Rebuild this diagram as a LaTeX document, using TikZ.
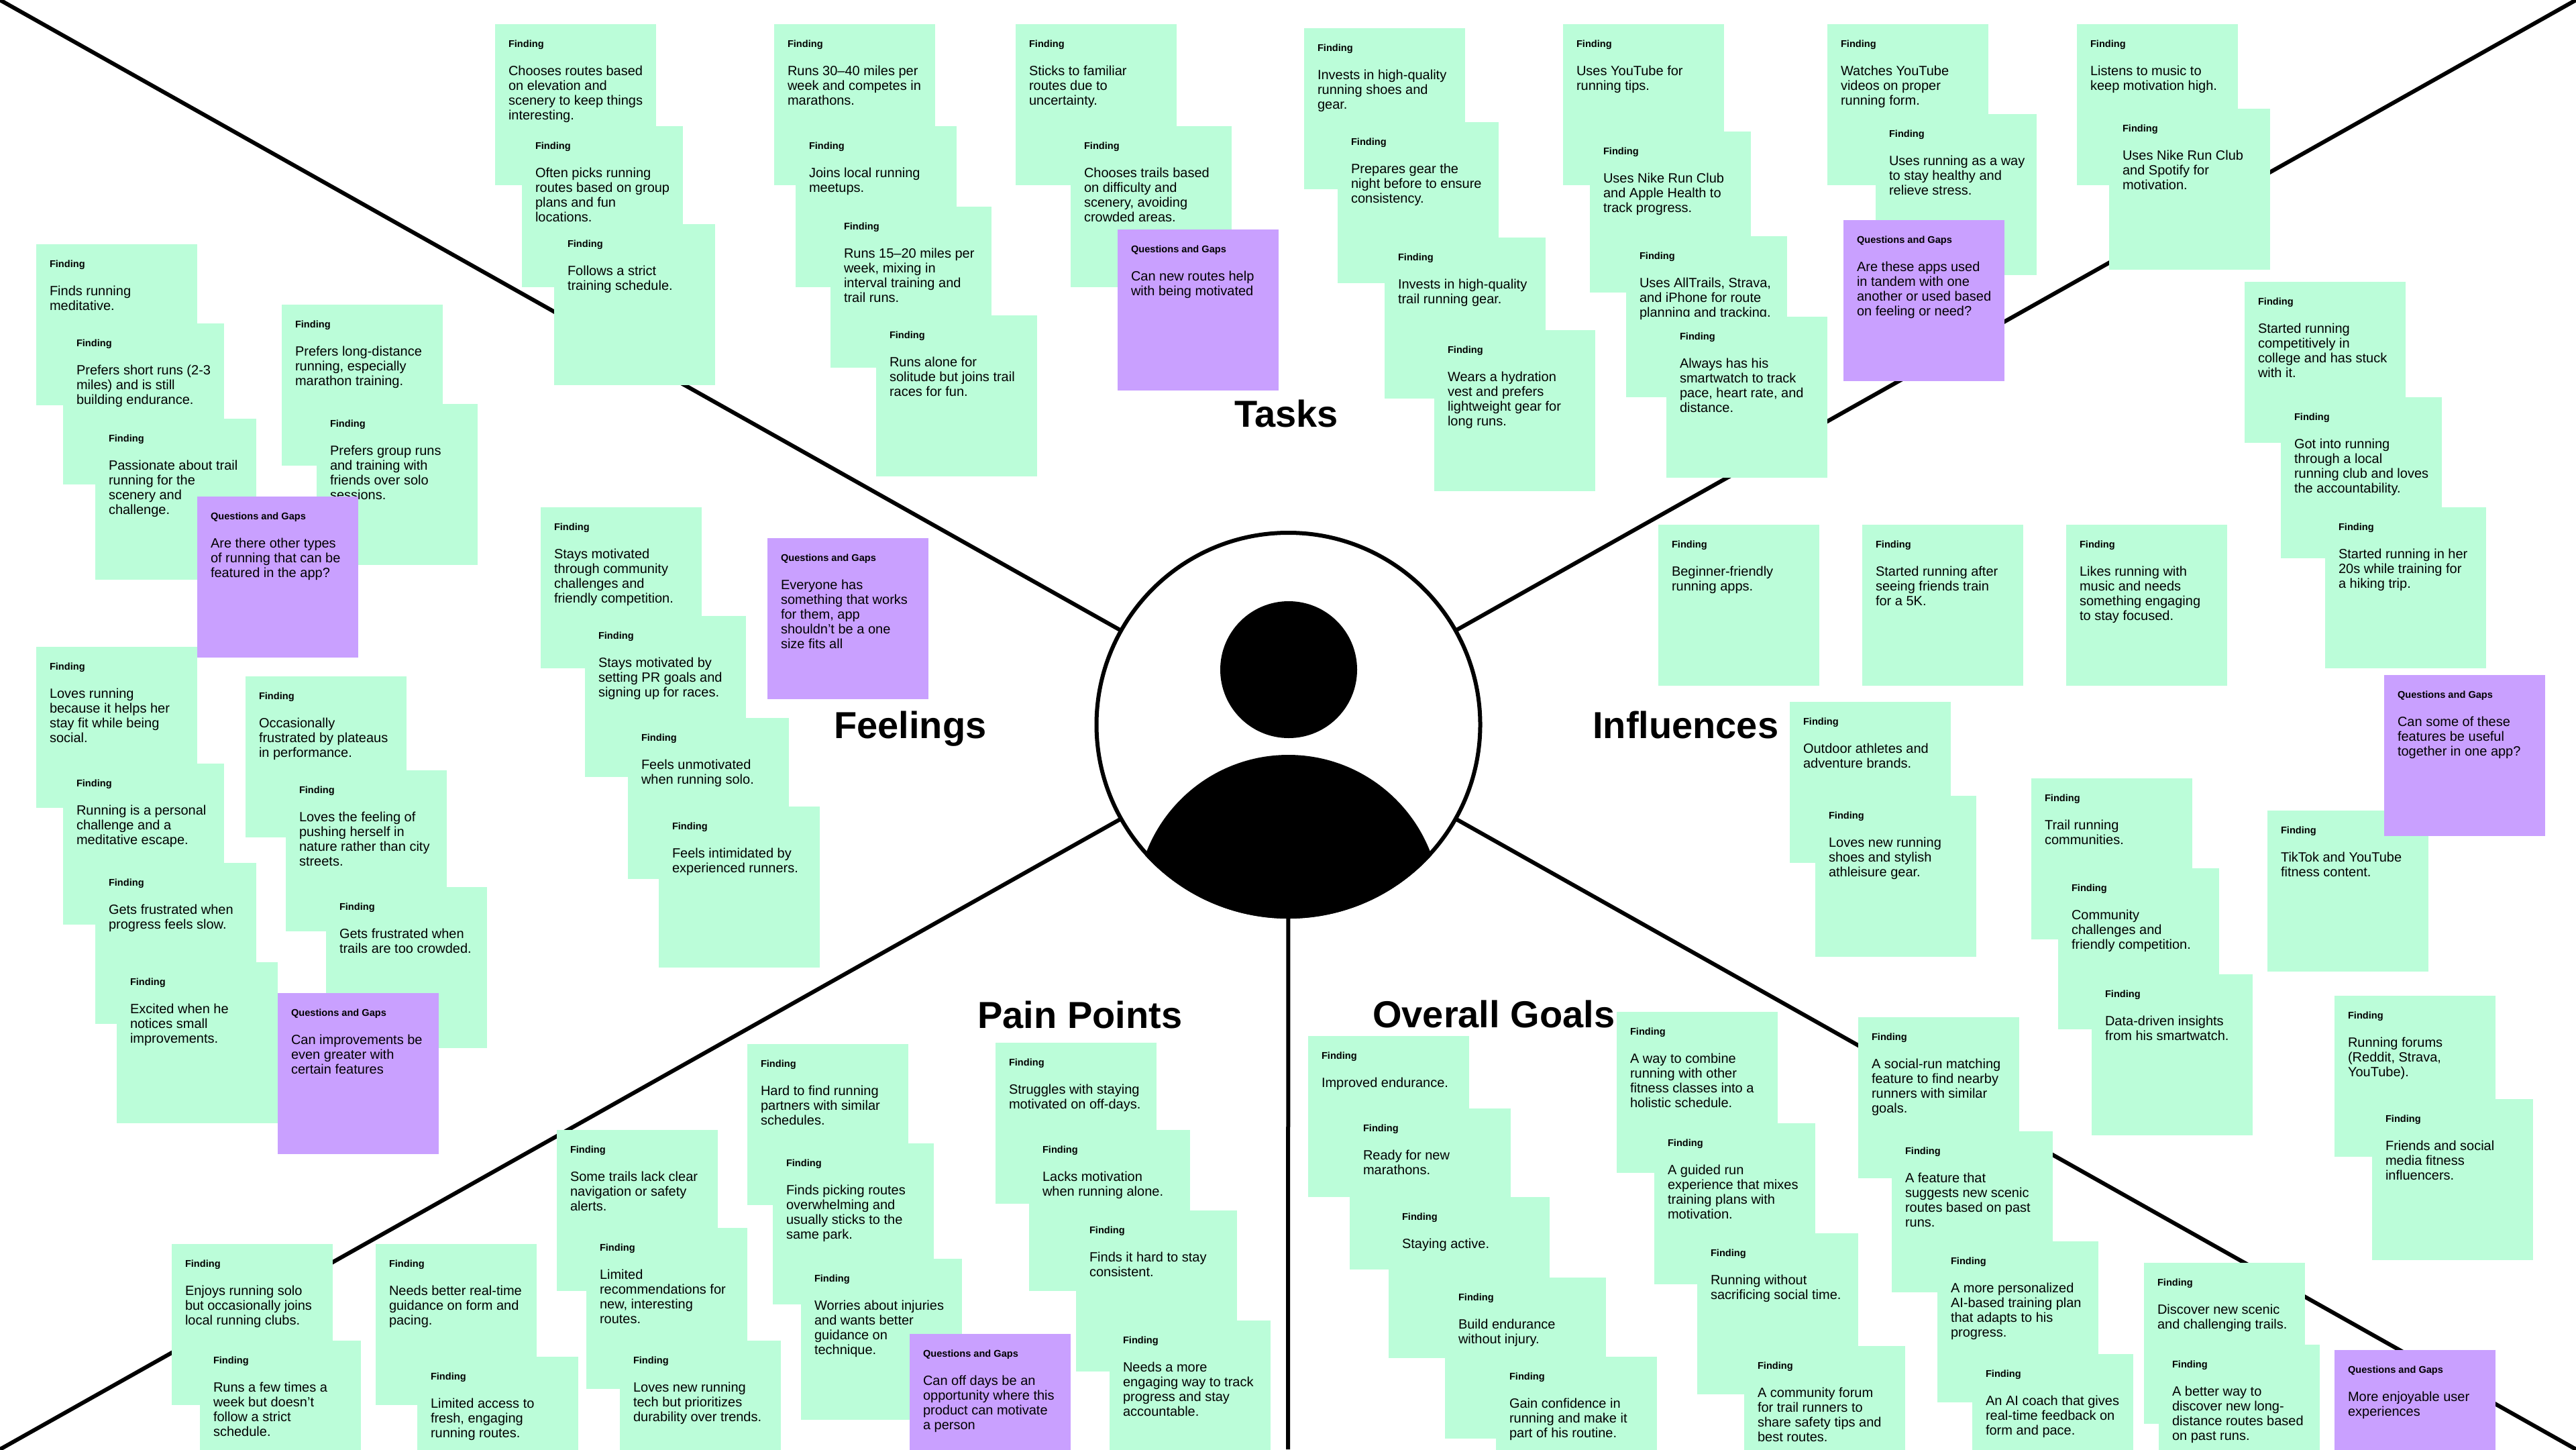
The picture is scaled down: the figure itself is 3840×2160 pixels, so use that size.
\documentclass[tikz,border=0pt]{standalone}
\usepackage{fontspec}
\setmainfont{Liberation Sans}
\definecolor{mint}{HTML}{BBFDD9}
\definecolor{violetnote}{HTML}{C9A0FF}
\newcommand\notebody[2]{\hspace*{20pt}\parbox[t][240pt][t]{220pt}{\raggedright\fontsize{14.6}{14.6}\selectfont\bfseries\rule{0pt}{34.4pt}#1\par\vspace{20pt}\fontsize{20}{22.1}\selectfont\mdseries #2\par}}
\newcommand\mintcard[4]{\node[findcard] (#1) at (#2,#3) {\notebody{Finding}{#4}};}
\newcommand\violetcard[4]{\node[gapcard] (#1) at (#2,#3) {\notebody{Questions and Gaps}{#4}};}
\tikzset{
 notecard/.style={anchor=north west,inner sep=0pt,outer sep=0pt,text=black},
 findcard/.style={notecard,fill=mint},
 gapcard/.style={notecard,fill=violetnote},
 spoke/.style={draw=black,line width=6pt},
 title/.style={anchor=base west,inner sep=0pt,font=\fontsize{56}{60}\selectfont\bfseries},
 avatarring/.style={circle,draw=black,line width=6pt,fill=white,minimum size=572pt,inner sep=0pt,outer sep=0pt},
 avatarhead/.style={circle,fill=black,minimum size=204pt,inner sep=0pt,outer sep=0pt},
}
\begin{document}
\begin{tikzpicture}[x=1pt,y=-1pt]
\useasboundingbox (0,0) rectangle (3840,2160);
\fill[white] (0,0) rectangle (3840,2160);
\coordinate (cornerTL) at (0,0);
\coordinate (cornerTR) at (3840,0);
\coordinate (cornerBL) at (0,2160);
\coordinate (cornerBR) at (3840,2160);
\coordinate (bottomMid) at (1920,2160);
\node[avatarring] (avatar) at (1920.5,1080) {};
\draw[spoke] (avatar) -- (cornerTL);
\draw[spoke] (avatar) -- (cornerTR);
\draw[spoke] (avatar) -- (cornerBL);
\draw[spoke] (avatar) -- (cornerBR);
\draw[spoke] (avatar) -- (bottomMid);
\node[avatarhead] (head) at (1921,998) {};
\begin{scope}
\clip (1920.5,1080) circle (289);
\fill[black] (1920.5,1352) circle (227);
\end{scope}
% titles
\node[title] (tTasks) at (1840,636) {Tasks};
\node[title] (tFeelings) at (1243,1100) {Feelings};
\node[title] (tInfluences) at (2374,1100) {Influences};
\node[title] (tPain) at (1457,1532) {Pain Points};
\node[title] (tGoals) at (2046,1531) {Overall Goals};
% Feelings, far left
\mintcard{a1}{54}{364}{Finds running\\meditative.}
\mintcard{a2}{94}{482}{Prefers short runs (2-3\\miles) and is still\\building endurance.}
\mintcard{a3}{142}{624}{Passionate about trail\\running for the\\scenery and\\challenge.}
\mintcard{a4}{420}{454}{Prefers long-distance\\running, especially\\marathon training.}
\mintcard{a5}{472}{602}{Prefers group runs\\and training with\\friends over solo\\sessions.}
\violetcard{a6}{294}{740}{Are there other types\\of running that can be\\featured in the app?}
\mintcard{a7}{54}{964}{Loves running\\because it helps her\\stay fit while being\\social.}
\mintcard{a8}{94}{1138}{Running is a personal\\challenge and a\\meditative escape.}
\mintcard{a9}{142}{1286}{Gets frustrated when\\progress feels slow.}
\mintcard{a10}{174}{1434}{Excited when he\\notices small\\improvements.}
\mintcard{a11}{366}{1008}{Occasionally\\frustrated by plateaus\\in performance.}
\mintcard{a12}{426}{1148}{Loves the feeling of\\pushing herself in\\nature rather than city\\streets.}
\mintcard{a13}{486}{1322}{Gets frustrated when\\trails are too crowded.}
\violetcard{a14}{414}{1480}{Can improvements be\\even greater with\\certain features}
% Feelings, centre
\mintcard{b1}{806}{756}{Stays motivated\\through community\\challenges and\\friendly competition.}
\mintcard{b2}{872}{918}{Stays motivated by\\setting PR goals and\\signing up for races.}
\mintcard{b3}{936}{1070}{Feels unmotivated\\when running solo.}
\mintcard{b4}{982}{1202}{Feels intimidated by\\experienced runners.}
\violetcard{b5}{1144}{802}{Everyone has\\something that works\\for them, app\\shouldn’t be a one\\size fits all}
% Tasks
\mintcard{c1}{738}{36}{Chooses routes based\\on elevation and\\scenery to keep things\\interesting.}
\mintcard{c2}{778}{188}{Often picks running\\routes based on group\\plans and fun\\locations.}
\mintcard{c3}{826}{334}{Follows a strict\\training schedule.}
\mintcard{c4}{1154}{36}{Runs 30–40 miles per\\week and competes in\\marathons.}
\mintcard{c5}{1186}{188}{Joins local running\\meetups.}
\mintcard{c6}{1238}{308}{Runs 15–20 miles per\\week, mixing in\\interval training and\\trail runs.}
\mintcard{c7}{1306}{470}{Runs alone for\\solitude but joins trail\\races for fun.}
\mintcard{c8}{1514}{36}{Sticks to familiar\\routes due to\\uncertainty.}
\mintcard{c9}{1596}{188}{Chooses trails based\\on difficulty and\\scenery, avoiding\\crowded areas.}
\violetcard{c10}{1666}{342}{Can new routes help\\with being motivated}
\mintcard{c11}{1944}{42}{Invests in high-quality\\running shoes and\\gear.}
\mintcard{c12}{1994}{182}{Prepares gear the\\night before to ensure\\consistency.}
\mintcard{c13}{2064}{354}{Invests in high-quality\\trail running gear.}
\mintcard{c14}{2138}{492}{Wears a hydration\\vest and prefers\\lightweight gear for\\long runs.}
\mintcard{c15}{2330}{36}{Uses YouTube for\\running tips.}
\mintcard{c16}{2370}{196}{Uses Nike Run Club\\and Apple Health to\\track progress.}
\mintcard{c17}{2424}{352}{Uses AllTrails, Strava,\\and iPhone for route\\planning and tracking.}
\mintcard{c18}{2484}{472}{Always has his\\smartwatch to track\\pace, heart rate, and\\distance.}
\mintcard{c19}{2724}{36}{Watches YouTube\\videos on proper\\running form.}
\mintcard{c20}{2796}{170}{Uses running as a way\\to stay healthy and\\relieve stress.}
\violetcard{c21}{2748}{328}{Are these apps used\\in tandem with one\\another or used based\\on feeling or need?}
\mintcard{c22}{3096}{36}{Listens to music to\\keep motivation high.}
\mintcard{c23}{3144}{162}{Uses Nike Run Club\\and Spotify for\\motivation.}
% Influences
\mintcard{d1}{3346}{420}{Started running\\competitively in\\college and has stuck\\with it.}
\mintcard{d2}{3400}{592}{Got into running\\through a local\\running club and loves\\the accountability.}
\mintcard{d3}{3466}{756}{Started running in her\\20s while training for\\a hiking trip.}
\mintcard{d4}{2472}{782}{Beginner-friendly\\running apps.}
\mintcard{d5}{2776}{782}{Started running after\\seeing friends train\\for a 5K.}
\mintcard{d6}{3080}{782}{Likes running with\\music and needs\\something engaging\\to stay focused.}
\mintcard{d7}{2668}{1046}{Outdoor athletes and\\adventure brands.}
\mintcard{d8}{2706}{1186}{Loves new running\\shoes and stylish\\athleisure gear.}
\mintcard{d9}{3028}{1160}{Trail running\\communities.}
\mintcard{d10}{3068}{1294}{Community\\challenges and\\friendly competition.}
\mintcard{d11}{3118}{1452}{Data-driven insights\\from his smartwatch.}
\mintcard{d12}{3380}{1208}{TikTok and YouTube\\fitness content.}
\violetcard{d13}{3554}{1006}{Can some of these\\features be useful\\together in one app?}
\mintcard{d14}{3480}{1484}{Running forums\\(Reddit, Strava,\\YouTube).}
\mintcard{d15}{3536}{1638}{Friends and social\\media fitness\\influencers.}
% Overall goals
\mintcard{e1}{1950}{1544}{Improved endurance.}
\mintcard{e2}{2012}{1652}{Ready for new\\marathons.}
\mintcard{e3}{2070}{1784}{Staying active.}
\mintcard{e4}{2154}{1904}{Build endurance\\without injury.}
\mintcard{e5}{2230}{2022}{Gain confidence in\\running and make it\\part of his routine.}
\mintcard{e6}{2410}{1508}{A way to combine\\running with other\\fitness classes into a\\holistic schedule.}
\mintcard{e7}{2466}{1674}{A guided run\\experience that mixes\\training plans with\\motivation.}
\mintcard{e8}{2530}{1838}{Running without\\sacrificing social time.}
\mintcard{e9}{2600}{2006}{A community forum\\for trail runners to\\share safety tips and\\best routes.}
\mintcard{e10}{2770}{1516}{A social-run matching\\feature to find nearby\\runners with similar\\goals.}
\mintcard{e11}{2820}{1686}{A feature that\\suggests new scenic\\routes based on past\\runs.}
\mintcard{e12}{2888}{1850}{A more personalized\\AI-based training plan\\that adapts to his\\progress.}
\mintcard{e13}{2940}{2018}{An AI coach that gives\\real-time feedback on\\form and pace.}
\mintcard{e14}{3196}{1882}{Discover new scenic\\and challenging trails.}
\mintcard{e15}{3218}{2004}{A better way to\\discover new long-\\distance routes based\\on past runs.}
\violetcard{e16}{3480}{2012}{More enjoyable user\\experiences}
% Pain points
\mintcard{g1}{256}{1854}{Enjoys running solo\\but occasionally joins\\local running clubs.}
\mintcard{g2}{298}{1998}{Runs a few times a\\week but doesn’t\\follow a strict\\schedule.}
\mintcard{g3}{560}{1854}{Needs better real-time\\guidance on form and\\pacing.}
\mintcard{g4}{622}{2022}{Limited access to\\fresh, engaging\\running routes.}
\mintcard{g5}{830}{1684}{Some trails lack clear\\navigation or safety\\alerts.}
\mintcard{g6}{874}{1830}{Limited\\recommendations for\\new, interesting\\routes.}
\mintcard{g7}{924}{1998}{Loves new running\\tech but prioritizes\\durability over trends.}
\mintcard{g8}{1114}{1556}{Hard to find running\\partners with similar\\schedules.}
\mintcard{g9}{1152}{1704}{Finds picking routes\\overwhelming and\\usually sticks to the\\same park.}
\mintcard{g10}{1194}{1876}{Worries about injuries\\and wants better\\guidance on\\technique.}
\violetcard{g11}{1356}{1988}{Can off days be an\\opportunity where this\\product can motivate\\a person}
\mintcard{g12}{1484}{1554}{Struggles with staying\\motivated on off-days.}
\mintcard{g13}{1534}{1684}{Lacks motivation\\when running alone.}
\mintcard{g14}{1604}{1804}{Finds it hard to stay\\consistent.}
\mintcard{g15}{1654}{1968}{Needs a more\\engaging way to track\\progress and stay\\accountable.}
\end{tikzpicture}
\end{document}
